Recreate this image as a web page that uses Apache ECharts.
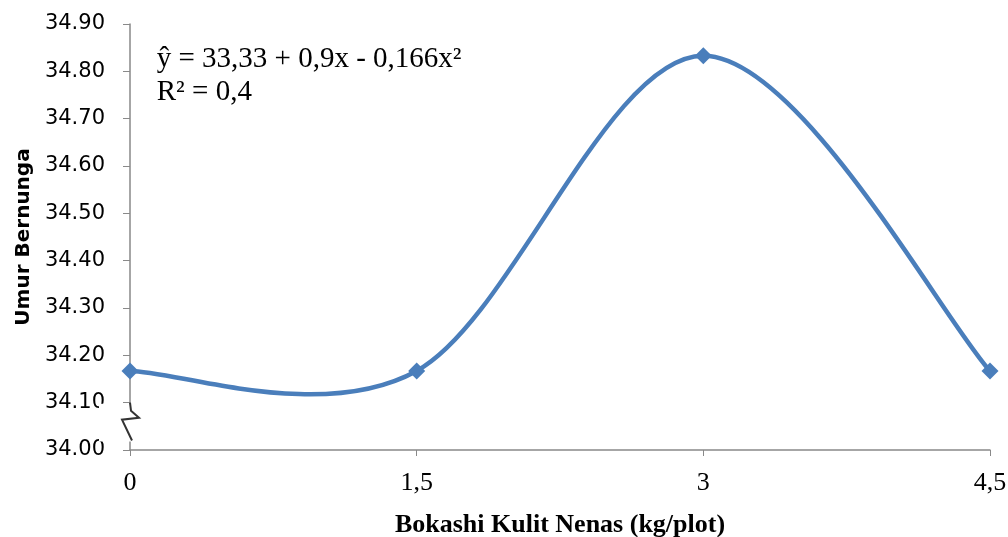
<!DOCTYPE html>
<html>
<head>
<meta charset="utf-8">
<script src="https://cdn.jsdelivr.net/npm/echarts@6/dist/echarts.min.js"></script>
<style>
  html, body { margin: 0; padding: 0; background: #fff; }
  #main { width: 1008px; height: 537px; }
</style>
</head>
<body>
<div id="main"></div>
<script>
// data
var doses = [0, 1.5, 3, 4.5];
var umur = [34.167, 34.167, 34.833, 34.167];
var yTicks = [34.0, 34.9, 0.1]; // min, max, step

var chart = echarts.init(document.getElementById('main'));

var pts = doses.map(function (d, i) { return [d, umur[i]]; });
var blue = '#4a7ebb';

// spreadsheet-style smooth curve: one cubic segment per pair of points
function renderSegment(params, api) {
  var i = params.dataIndex;
  if (i >= doses.length - 1) return null;
  var P = doses.map(function (d, k) { return api.coord([d, umur[k]]); });
  function tan(k) {
    var a = P[Math.max(k - 1, 0)], b = P[Math.min(k + 1, P.length - 1)];
    return [(b[0] - a[0]) / 6, (b[1] - a[1]) / 6];
  }
  var t0 = tan(i), t1 = tan(i + 1);
  return {
    type: 'bezierCurve',
    shape: {
      x1: P[i][0], y1: P[i][1],
      x2: P[i + 1][0], y2: P[i + 1][1],
      cpx1: P[i][0] + t0[0], cpy1: P[i][1] + t0[1],
      cpx2: P[i + 1][0] - t1[0], cpy2: P[i + 1][1] - t1[1]
    },
    style: { stroke: blue, lineWidth: 4.5, fill: null }
  };
}

var option = {
  animation: false,
  grid: { left: 130, right: 18, top: 24, bottom: 87, outerBoundsMode: 'none' },
  xAxis: {
    type: 'value',
    min: 0, max: 4.5, interval: 1.5,
    name: 'Bokashi Kulit Nenas (kg/plot)',
    nameLocation: 'middle',
    nameGap: 62,
    nameTextStyle: { fontFamily: 'Liberation Serif', fontWeight: 'bold', fontSize: 26, color: '#000' },
    axisLine: { lineStyle: { color: '#898989', width: 1.5 } },
    axisTick: { show: true, length: 6, lineStyle: { color: '#898989' } },
    axisLabel: {
      fontFamily: 'Liberation Serif', fontSize: 26, color: '#000', margin: 20,
      formatter: function (v) { return String(v).replace('.', ','); }
    },
    splitLine: { show: false }
  },
  yAxis: {
    type: 'value',
    min: yTicks[0], max: yTicks[1], interval: yTicks[2],
    name: 'Umur Bernunga',
    nameLocation: 'middle',
    nameGap: 95,
    nameTextStyle: { fontFamily: 'DejaVu Sans', fontWeight: 'bold', fontSize: 20, color: '#000' },
    axisLine: { show: true, lineStyle: { color: '#898989', width: 1.5 } },
    axisTick: { show: true, length: 7, lineStyle: { color: '#898989' } },
    axisLabel: {
      fontFamily: 'DejaVu Sans', fontSize: 21, color: '#000', margin: 25,
      formatter: function (v) { return v.toFixed(2); }
    },
    splitLine: { show: false }
  },
  series: [
    { type: 'custom', data: pts, renderItem: renderSegment, z: 2 },
    {
      type: 'line', data: pts, symbol: 'diamond', symbolSize: 17,
      itemStyle: { color: blue }, lineStyle: { width: 0 }, z: 3
    }
  ]
};
chart.setOption(option);

// equation text and axis break marker, placed from axis scales
var eqPos = chart.convertToPixel({ gridIndex: 0 }, [0.14, 34.86]);
var brkTop = chart.convertToPixel({ gridIndex: 0 }, [0, 34.10]);
var brkBot = chart.convertToPixel({ gridIndex: 0 }, [0, 34.02]);
var bx = brkTop[0], t = brkTop[1], b = brkBot[1];

chart.setOption({
  graphic: [
    {
      type: 'text', left: eqPos[0], top: eqPos[1],
      style: { text: 'ŷ = 33,33 + 0,9x - 0,166x²\nR² = 0,4', font: '29px "Liberation Serif"', lineHeight: 33, fill: '#000' }
    },
    { type: 'rect', shape: { x: bx - 31, y: t + 1, width: 42, height: b - t }, style: { fill: '#fff' }, z: 10 },
    {
      type: 'polyline',
      shape: { points: [[bx, t], [bx + 1, t + 8], [bx + 9, t + 15], [bx - 8, t + 17], [bx + 2, b]] },
      style: { stroke: '#333', lineWidth: 2, fill: null }, z: 11
    }
  ]
});
</script>
</body>
</html>
